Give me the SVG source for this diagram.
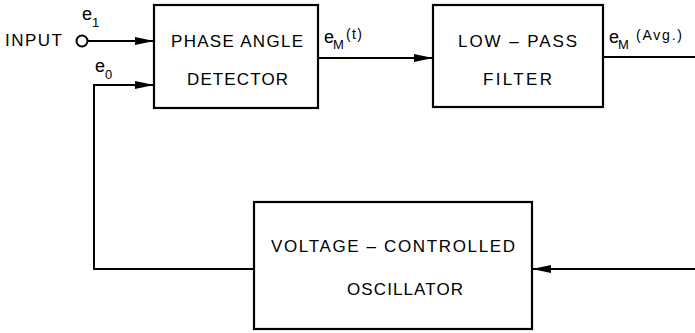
<svg xmlns="http://www.w3.org/2000/svg" width="695" height="333" viewBox="0 0 695 333">
<style>
.box{fill:#fff;stroke:#000;stroke-width:2.2}
.ln{fill:none;stroke:#000;stroke-width:2}
.t{font-family:"Liberation Sans",Arial,sans-serif;font-size:17px;fill:#000}
.e{font-family:"Liberation Sans",Arial,sans-serif;font-size:18px;fill:#000}
.s{font-family:"Liberation Sans",Arial,sans-serif;font-size:13px;fill:#000}
.p{font-family:"Liberation Sans",Arial,sans-serif;font-size:14px;fill:#000}
</style>
<defs>
<marker id="ah" markerUnits="userSpaceOnUse" markerWidth="19" markerHeight="9" refX="19" refY="4.5" orient="auto">
<path d="M0,0.5 L19,4.5 L0,8.5 z" fill="#000"/>
</marker>
</defs>
<rect width="695" height="333" fill="#fff"/>
<g id="connectors">
<circle cx="82" cy="41" r="5.5" class="ln" stroke-width="2.6"/>
<line x1="87.5" y1="41" x2="154" y2="41" class="ln" marker-end="url(#ah)"/>
<polyline points="94,269 94,85 154,85" class="ln" marker-end="url(#ah)"/>
<line x1="318" y1="58" x2="433" y2="58" class="ln" marker-end="url(#ah)"/>
<line x1="603" y1="57" x2="695" y2="57" class="ln"/>
<line x1="695" y1="269" x2="532" y2="269" class="ln" marker-end="url(#ah)"/>
<line x1="254" y1="269" x2="93" y2="269" class="ln"/>
</g>
<g id="input-label">
<text class="t" x="5" y="46" textLength="57" lengthAdjust="spacing">INPUT</text>
<text class="e" x="82" y="20">e</text><text class="s" x="92" y="27">1</text>
<text class="e" x="95" y="72">e</text><text class="s" x="105" y="79">0</text>
</g>
<g id="phase-angle-detector">
<rect class="box" x="154" y="5" width="164" height="103"/>
<text class="t" x="171" y="47" textLength="132" lengthAdjust="spacing">PHASE ANGLE</text>
<text class="t" x="187" y="85" textLength="101" lengthAdjust="spacing">DETECTOR</text>
</g>
<g id="em-t-label">
<text class="e" x="324" y="43">e</text><text class="s" x="333" y="49">M</text>
<text class="p" x="346" y="39" textLength="16" lengthAdjust="spacing">(t)</text>
</g>
<g id="low-pass-filter">
<rect class="box" x="433" y="5" width="170" height="102"/>
<text class="t" x="458" y="47" textLength="119" lengthAdjust="spacing">LOW – PASS</text>
<text class="t" x="483" y="85" textLength="69" lengthAdjust="spacing">FILTER</text>
</g>
<g id="em-avg-label">
<text class="e" x="609" y="43">e</text><text class="s" x="618" y="49">M</text>
<text class="p" x="636" y="40" textLength="46" lengthAdjust="spacing">(Avg.)</text>
</g>
<g id="vco">
<rect class="box" x="254" y="202" width="278" height="127"/>
<text class="t" x="271" y="252" textLength="244" lengthAdjust="spacing">VOLTAGE – CONTROLLED</text>
<text class="t" x="347" y="295" textLength="116" lengthAdjust="spacing">OSCILLATOR</text>
</g>
</svg>
